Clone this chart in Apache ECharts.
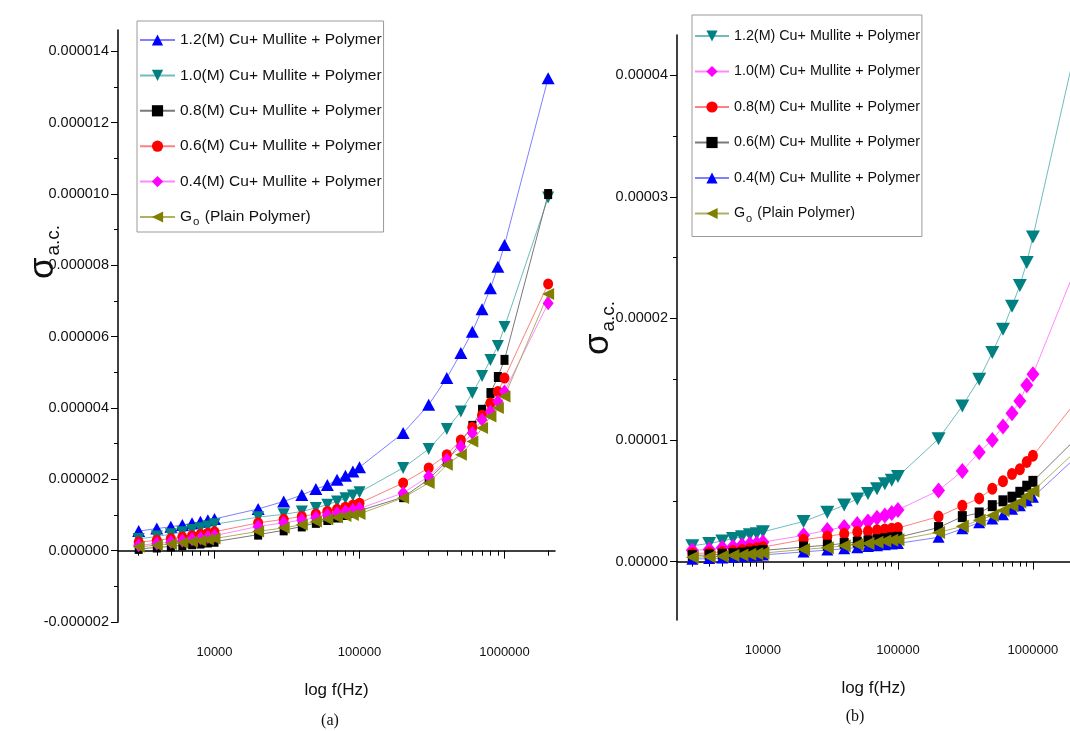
<!DOCTYPE html>
<html>
<head>
<meta charset="utf-8">
<script src="https://cdn.jsdelivr.net/npm/echarts@6/dist/echarts.min.js"></script>
<style>
html,body{margin:0;padding:0;background:#fff;}
#c{width:1070px;height:731px;}
</style>
</head>
<body>
<div id="c"></div>
<script>
// Frequencies (Hz)
const freqs = [3000,4000,5000,6000,7000,8000,9000,10000,20000,30000,40000,50000,60000,70000,80000,90000,100000,200000,300000,400000,500000,600000,700000,800000,900000,1000000,2000000];

// Panel (a) values, in units of 1e-6
const a_12 = [0.55,0.62,0.67,0.72,0.77,0.81,0.85,0.89,1.17,1.38,1.56,1.73,1.84,1.99,2.1,2.22,2.34,3.3,4.09,4.84,5.54,6.14,6.77,7.36,7.96,8.57,13.25];
const a_10 = [0.33,0.4,0.46,0.52,0.58,0.63,0.68,0.74,0.94,1.02,1.1,1.2,1.29,1.38,1.47,1.55,1.64,2.32,2.85,3.41,3.9,4.42,4.9,5.35,5.74,6.27,9.9];
const a_08 = [0.05,0.09,0.12,0.15,0.18,0.2,0.23,0.25,0.45,0.57,0.68,0.78,0.86,0.93,1.0,1.06,1.12,1.5,2.0,2.5,3.05,3.5,3.95,4.42,4.87,5.35,10.0];
const a_06 = [0.24,0.29,0.34,0.38,0.42,0.46,0.49,0.53,0.78,0.88,0.96,1.03,1.1,1.16,1.22,1.28,1.33,1.9,2.32,2.69,3.1,3.46,3.8,4.14,4.46,4.84,7.48];
const a_04 = [0.15,0.2,0.24,0.28,0.32,0.35,0.38,0.42,0.68,0.78,0.86,0.93,1.0,1.05,1.1,1.14,1.18,1.62,2.08,2.55,2.92,3.3,3.67,3.9,4.18,4.46,6.94];
const a_g0 = [0.11,0.15,0.19,0.22,0.25,0.28,0.31,0.34,0.54,0.64,0.73,0.82,0.88,0.93,0.97,1.0,1.03,1.48,1.9,2.41,2.69,3.06,3.44,3.76,4.0,4.32,7.2];

// Panel (b) values, in units of 1e-6
const b_12 = [1.3,1.5,1.7,1.9,2.05,2.2,2.3,2.45,3.3,4.05,4.65,5.15,5.6,6.0,6.4,6.7,7.0,10.1,12.8,15.0,17.2,19.1,21.0,22.7,24.6,26.7,41.5];
const b_10 = [0.93,1.0,1.15,1.23,1.34,1.45,1.5,1.6,2.16,2.6,2.85,3.1,3.3,3.6,3.8,4.0,4.25,5.85,7.45,9.0,10.0,11.1,12.2,13.2,14.5,15.4,23.7];
const b_08 = [0.66,0.72,0.8,0.88,0.95,1.03,1.1,1.2,1.8,2.07,2.3,2.43,2.5,2.57,2.65,2.7,2.76,3.7,4.6,5.2,6.0,6.6,7.2,7.6,8.2,8.7,12.9];
const b_06 = [0.5,0.55,0.6,0.65,0.7,0.78,0.85,0.92,1.2,1.35,1.5,1.6,1.7,1.8,1.88,1.95,2.0,2.8,3.7,4.0,4.6,5.0,5.3,5.7,6.2,6.6,9.9];
const b_04 = [0.2,0.25,0.3,0.35,0.4,0.45,0.5,0.55,0.8,0.95,1.05,1.15,1.25,1.3,1.38,1.45,1.5,2.0,2.7,3.2,3.5,3.85,4.3,4.6,5.0,5.3,8.4];
const b_g0 = [0.35,0.4,0.45,0.5,0.55,0.6,0.65,0.7,1.0,1.15,1.3,1.4,1.5,1.6,1.7,1.75,1.8,2.4,2.9,3.4,3.8,4.2,4.6,4.9,5.4,5.8,8.9];

// Tick values / labels
const xMajor = [10000, 100000, 1000000];
const xMinor = [3000,4000,5000,6000,7000,8000,9000,20000,30000,40000,50000,60000,70000,80000,90000,200000,300000,400000,500000,600000,700000,800000,900000,2000000];
const yMajorA = [-0.000002,0,0.000002,0.000004,0.000006,0.000008,0.00001,0.000012,0.000014];
const yMinorA = [-0.000001,0.000001,0.000003,0.000005,0.000007,0.000009,0.000011,0.000013];
const yMajorB = [0,0.00001,0.00002,0.00003,0.00004];
const yMinorB = [0.000005,0.000015,0.000025,0.000035];

const names = ['1.2(M) Cu+ Mullite + Polymer','1.0(M) Cu+ Mullite + Polymer','0.8(M) Cu+ Mullite + Polymer','0.6(M) Cu+ Mullite + Polymer','0.4(M) Cu+ Mullite + Polymer','G0 (Plain Polymer)'];

const SANS = "'Liberation Sans', Arial, sans-serif";

const STA = {
  blue:   {symbol:'triangle', rot:0,   color:'#0000ff', line:'#8080ff', size:[13,12]},
  teal:   {symbol:'triangle', rot:180, color:'#008080', line:'#70bcbc', size:[12,12]},
  black:  {symbol:'rect',     rot:0,   color:'#000000', line:'#7a7a7a', size:[8,10]},
  red:    {symbol:'circle',   rot:0,   color:'#ff0000', line:'#ff8080', size:[10,11]},
  magenta:{symbol:'diamond',  rot:0,   color:'#ff00ff', line:'#ff88ff', size:[11,14]},
  olive:  {symbol:'triangle', rot:90,  color:'#808000', line:'#b0b060', size:[12,12]}
};
const STB = {
  blue:   {symbol:'triangle', rot:0,   color:'#0000ff', line:'#8080ff', size:[12,11]},
  teal:   {symbol:'triangle', rot:180, color:'#008080', line:'#70bcbc', size:[14,13]},
  black:  {symbol:'rect',     rot:0,   color:'#000000', line:'#7a7a7a', size:[9,11]},
  red:    {symbol:'circle',   rot:0,   color:'#ff0000', line:'#ff8080', size:[10,12]},
  magenta:{symbol:'diamond',  rot:0,   color:'#ff00ff', line:'#ff88ff', size:[13,16]},
  olive:  {symbol:'triangle', rot:90,  color:'#808000', line:'#b0b060', size:[13,13]}
};

function mk(name, vals, st, xi, yi) {
  return {
    type:'line', name:name, xAxisIndex:xi, yAxisIndex:yi,
    data: freqs.map((f,i)=>[f, vals[i]*1e-6]),
    symbol: st.symbol, symbolSize: st.size, symbolRotate: st.rot,
    showAllSymbol: true, clip: true,
    itemStyle:{color: st.color},
    lineStyle:{color: st.line, width:1},
    emphasis:{disabled:true}
  };
}

const series = [
  mk('a:'+names[0], a_12, STA.blue, 0, 0),
  mk('a:'+names[1], a_10, STA.teal, 0, 0),
  mk('a:'+names[2], a_08, STA.black, 0, 0),
  mk('a:'+names[3], a_06, STA.red, 0, 0),
  mk('a:'+names[4], a_04, STA.magenta, 0, 0),
  mk('a:'+names[5], a_g0, STA.olive, 0, 0),
  mk('b:'+names[0], b_12, STB.teal, 2, 2),
  mk('b:'+names[1], b_10, STB.magenta, 2, 2),
  mk('b:'+names[2], b_08, STB.red, 2, 2),
  mk('b:'+names[3], b_06, STB.black, 2, 2),
  mk('b:'+names[4], b_04, STB.blue, 2, 2),
  mk('b:'+names[5], b_g0, STB.olive, 2, 2)
];

function legendFmt(n) {
  const s = n.slice(2);
  if (s.indexOf('G0') === 0) return 'G{sub|o}' + s.slice(2);
  return s;
}

function legendCfg(fs, subFs, extra) {
  return Object.assign({
    orient:'vertical', itemHeight:14, itemGap:13.4,
    backgroundColor:'#fff', borderColor:'#9a9a9a', borderWidth:1, borderRadius:0,
    selectedMode:false,
    formatter: legendFmt,
    textStyle:{fontFamily:SANS, fontSize:fs, color:'#111', lineHeight:22,
      rich:{sub:{fontFamily:SANS, fontSize:subFs, lineHeight:12, padding:[10,1,0,1], verticalAlign:'bottom', color:'#111'}}}
  }, extra);
}

function xMain(gi, min, max) {
  return {type:'log', gridIndex:gi, min:min, max:max, logBase:10,
    axisLine:{show:true, lineStyle:{color:'#000', width:1.5}},
    axisTick:{show:true, inside:false, length:8, lineStyle:{color:'#000', width:1}, customValues:xMajor},
    axisLabel:{show:true, margin:24, fontFamily:SANS, fontSize:13, color:'#111', customValues:xMajor,
      formatter: v => String(Math.round(v))},
    splitLine:{show:false}, minorTick:{show:false},
    name:'log f(Hz)', nameLocation:'middle', nameGap:60,
    nameTextStyle:{fontFamily:SANS, fontSize:17, color:'#111'}
  };
}
function xMinorAx(gi, min, max) {
  return {type:'log', gridIndex:gi, min:min, max:max, logBase:10, position:'bottom',
    axisLine:{show:false},
    axisTick:{show:true, inside:false, length:5, lineStyle:{color:'#000', width:1}, customValues:xMinor},
    axisLabel:{show:false}, splitLine:{show:false}
  };
}
function yMain(gi, min, max, ticks, dec) {
  return {type:'value', gridIndex:gi, min:min, max:max, position:'left',
    axisLine:{show:true, onZero:false, lineStyle:{color:'#000', width:1.5}},
    axisTick:{show:true, inside:false, length:7, lineStyle:{color:'#000', width:1}, customValues:ticks},
    axisLabel:{show:true, margin:9, fontFamily:SANS, fontSize:14.5, color:'#111', customValues:ticks,
      formatter: v => v.toFixed(dec)},
    splitLine:{show:false}
  };
}
function yMinorAx(gi, min, max, ticks) {
  return {type:'value', gridIndex:gi, min:min, max:max, position:'left', offset:0,
    axisLine:{show:false},
    axisTick:{show:true, inside:false, length:4, lineStyle:{color:'#000', width:1}, customValues:ticks},
    axisLabel:{show:false}, splitLine:{show:false}
  };
}

const AXMIN_A = 2160, AXMAX_A = 2230000;
const AXMIN_B = 2310, AXMAX_B = 1882000;

const titleRich = {
  s:{fontFamily:SANS, fontSize:35, lineHeight:40, fill:'#111'},
  sub:{fontFamily:SANS, fontSize:19, lineHeight:22, verticalAlign:'bottom', padding:[0,0,0,2], fill:'#111'}
};

const option = {
  animation:false,
  backgroundColor:'#fff',
  grid:[
    {left:118, top:30, width:437, height:592, containLabel:false},
    {left:677, top:35, right:0, height:585, containLabel:false}
  ],
  xAxis:[ xMain(0, AXMIN_A, AXMAX_A), xMinorAx(0, AXMIN_A, AXMAX_A), xMain(1, AXMIN_B, AXMAX_B), xMinorAx(1, AXMIN_B, AXMAX_B) ],
  yAxis:[ yMain(0, -0.000002, 0.0000146, yMajorA, 6), yMinorAx(0, -0.000002, 0.0000146, yMinorA),
          yMain(1, -0.0000048, 0.0000433, yMajorB, 5), yMinorAx(1, -0.0000048, 0.0000433, yMinorB) ],
  legend:[
    legendCfg(15.5, 11.5, {left:137, top:21, itemWidth:35, itemTextGap:3, padding:[8,2,4,2], data: names.map(n=>'a:'+n)}),
    legendCfg(14.3, 11, {left:692, top:15, itemWidth:34, itemTextGap:3, itemGap:13.5, padding:[10,2,12,2], data: names.map(n=>'b:'+n)})
  ],
  graphic:[
    {type:'text', x:43, y:252, rotation:Math.PI/2, silent:true,
      style:{text:'{s|σ}{sub|a.c.}', align:'center', verticalAlign:'middle', fill:'#111', rich:titleRich}},
    {type:'text', x:598, y:328, rotation:Math.PI/2, silent:true,
      style:{text:'{s|σ}{sub|a.c.}', align:'center', verticalAlign:'middle', fill:'#111', rich:titleRich}},
    {type:'text', x:330, y:721, silent:true,
      style:{text:'(a)', align:'center', verticalAlign:'middle', fill:'#111', font:"16px 'Liberation Serif', 'Times New Roman', serif"}},
    {type:'text', x:855, y:717, silent:true,
      style:{text:'(b)', align:'center', verticalAlign:'middle', fill:'#111', font:"16px 'Liberation Serif', 'Times New Roman', serif"}}
  ],
  series: series
};

const chart = echarts.init(document.getElementById('c'), null, {renderer:'canvas'});
chart.setOption(option);
</script>
</body>
</html>
